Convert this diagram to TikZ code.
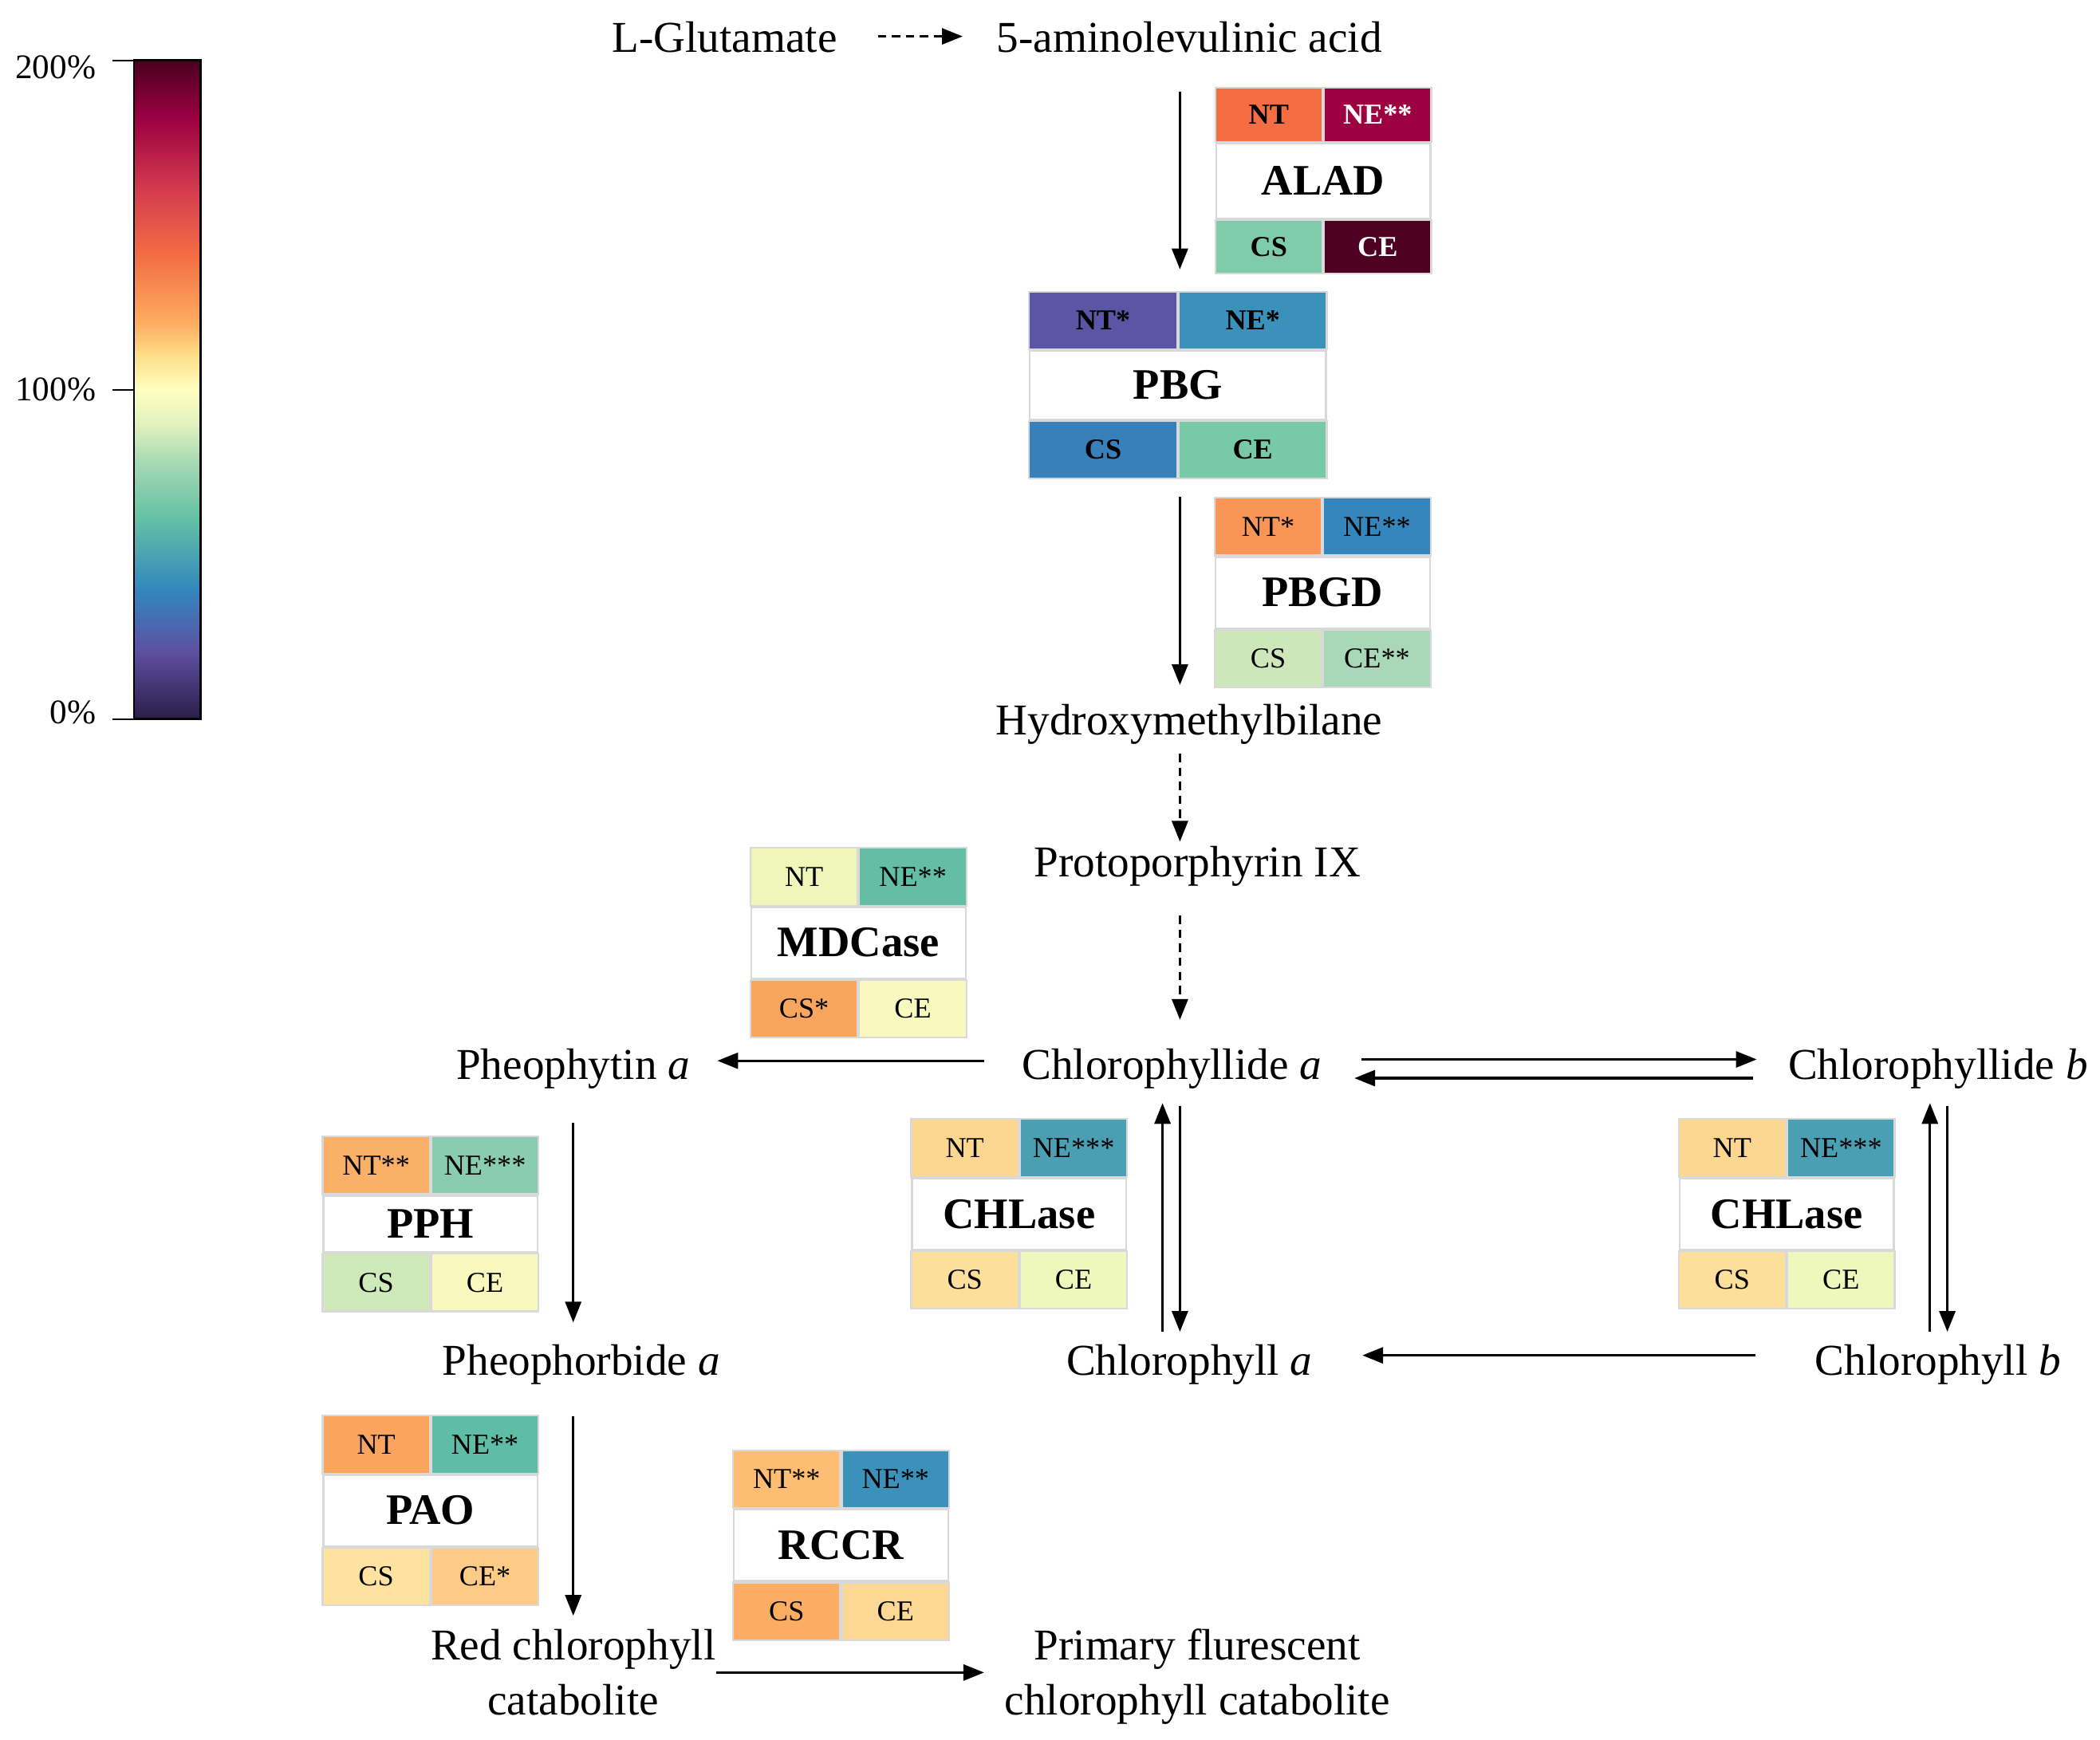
\documentclass[tikz,border=0pt]{standalone}
\usepackage{fontspec}
\setmainfont{Liberation Serif}
\usetikzlibrary{positioning,calc,arrows.meta}

% colours of the heat map cells
\definecolor{aladNT}{HTML}{F46D43}
\definecolor{aladNE}{HTML}{9E0142}
\definecolor{aladCS}{HTML}{80CBA9}
\definecolor{aladCE}{HTML}{4D0022}
\definecolor{pbgNT}{HTML}{5A55A4}
\definecolor{pbgNE}{HTML}{3C91BA}
\definecolor{pbgCS}{HTML}{3780BA}
\definecolor{pbgCE}{HTML}{78C9A8}
\definecolor{pbgdNT}{HTML}{F99556}
\definecolor{pbgdNE}{HTML}{3586BC}
\definecolor{pbgdCS}{HTML}{CDE7BA}
\definecolor{pbgdCE}{HTML}{A8D8B7}
\definecolor{mdcNT}{HTML}{EEF6B8}
\definecolor{mdcNE}{HTML}{63BEA5}
\definecolor{mdcCS}{HTML}{F8A55E}
\definecolor{mdcCE}{HTML}{F9F9BF}
\definecolor{chlaseaNT}{HTML}{FDD792}
\definecolor{chlaseaNE}{HTML}{4B9FB3}
\definecolor{chlaseaCS}{HTML}{FDDF9C}
\definecolor{chlaseaCE}{HTML}{EEF8BC}
\colorlet{chlasebNT}{chlaseaNT}
\colorlet{chlasebNE}{chlaseaNE}
\colorlet{chlasebCS}{chlaseaCS}
\colorlet{chlasebCE}{chlaseaCE}
\definecolor{pphNT}{HTML}{FBB068}
\definecolor{pphNE}{HTML}{89CCB0}
\definecolor{pphCS}{HTML}{CEE9BA}
\definecolor{pphCE}{HTML}{F9F9BF}
\definecolor{paoNT}{HTML}{FAA45E}
\definecolor{paoNE}{HTML}{5FBCA6}
\definecolor{paoCS}{HTML}{FEE2A0}
\definecolor{paoCE}{HTML}{FDCB86}
\definecolor{rccrNT}{HTML}{FDBE74}
\definecolor{rccrNE}{HTML}{3B91B9}
\definecolor{rccrCS}{HTML}{FBAE63}
\definecolor{rccrCE}{HTML}{FDD895}
\definecolor{boxline}{HTML}{D9D9D9}

% colour bar
\definecolor{sp0}{HTML}{2A1E48}
\definecolor{sp1}{HTML}{5E4FA2}
\definecolor{sp2}{HTML}{3288BD}
\definecolor{sp3}{HTML}{66C2A5}
\definecolor{sp4}{HTML}{A6D9B4}
\definecolor{sp5}{HTML}{E2F2BE}
\definecolor{sp6}{HTML}{FFFFBF}
\definecolor{sp7}{HTML}{FEE08B}
\definecolor{sp8}{HTML}{FDAE61}
\definecolor{sp9}{HTML}{F46D43}
\definecolor{sp10}{HTML}{D53E4F}
\definecolor{sp11}{HTML}{9E0142}
\definecolor{sp12}{HTML}{4A0020}
\pgfdeclareverticalshading{spectralbar}{100bp}{color(0bp)=(sp0); color(25bp)=(sp0);
  color(30.1bp)=(sp1); color(34.9bp)=(sp2); color(40.4bp)=(sp3); color(44.5bp)=(sp4);
  color(47.4bp)=(sp5); color(50bp)=(sp6); color(52.5bp)=(sp7); color(55bp)=(sp8);
  color(60.2bp)=(sp9); color(65bp)=(sp10); color(70.5bp)=(sp11); color(75bp)=(sp12);
  color(100bp)=(sp12)}

% enzyme box: name in the middle, NT/NE above, CS/CE below
\newcommand{\enzyme}[8][]{%
  \begin{scope}[#1]
    \node[ename] (#2) at (#3) {#4};
    \node[cell, fill=#2NT, anchor=south east] (#2NT) at (#2.north) {#5};
    \node[cell, fill=#2NE, anchor=south west] (#2NE) at (#2.north) {#6};
    \node[cell, fill=#2CS, anchor=north east] (#2CS) at (#2.south) {#7};
    \node[cell, fill=#2CE, anchor=north west] (#2CE) at (#2.south) {#8};
  \end{scope}}

\begin{document}
\begin{tikzpicture}[x=0.016792cm, y=-0.016792cm,
  met/.style={font=\fontsize{15.7}{19.5}\selectfont, inner sep=0pt, text height=11pt, text depth=3.5pt, anchor=base},
  met2/.style={font=\fontsize{15.7}{19.5}\selectfont, inner sep=0pt, align=center},
  ename/.style={draw=boxline, line width=0.6pt, fill=white, inner sep=0pt, minimum width=2.687cm, minimum height=0.890cm, font=\bfseries\fontsize{15.5}{18}\selectfont},
  cell/.style={draw=boxline, line width=0.6pt, inner sep=0pt, minimum width=1.343cm, minimum height=0.722cm, font=\fontsize{10.3}{12}\selectfont},
  bcell/.style={cell/.append style={font=\bfseries\fontsize{10.3}{12}\selectfont}},
  arr/.style={line width=0.9pt, -{Triangle[length=0.26cm, width=0.2cm]}},
  dasharr/.style={arr, dash pattern=on 3pt off 2pt},
  barlab/.style={font=\fontsize{12.3}{14}\selectfont, anchor=east, inner sep=0pt}]
\useasboundingbox (0,0) rectangle (1568,1299);

% colour scale
\shadedraw[shading=spectralbar, draw=black, line width=0.8pt] (100,45) rectangle (150,537);
\foreach \yy/\ly/\lab in {45/50/200, 291/291/100, 537/532/0} {
  \draw[line width=0.6pt] (84,\yy) -- (100,\yy);
  \node[barlab] (tick\lab) at (72,\ly) {\lab\%};
}

% metabolites
\coordinate (axis) at (881,0);
\node[met] (glu) at (541,39) {L-Glutamate};
\node[met] (ala) at (888,39) {5-aminolevulinic acid};
\node[met] (hmb) at (888,549) {Hydroxymethylbilane};
\node[met] (proto) at (894,655) {Protoporphyrin IX};
\node[met] (chlidea) at (875,806) {Chlorophyllide \textit{a}};
\node[met] (pheo) at (428,806) {Pheophytin \textit{a}};
\node[met] (chlideb) at (1447,806) {Chlorophyllide \textit{b}};
\node[met] (chla) at (888,1027) {Chlorophyll \textit{a}};
\node[met] (chlb) at (1447,1027) {Chlorophyll \textit{b}};
\node[met] (pheide) at (434,1027) {Pheophorbide \textit{a}};
\node[met2] (rcc) at (428,1249) {Red chlorophyll\\catabolite};
\node[met2] (pfcc) at (894,1252) {Primary flurescent\\chlorophyll catabolite};

% enzymes
\enzyme[bcell, cell/.append style={minimum height=0.672cm}, ename/.append style={minimum height=0.940cm}]
  {alad}{988,135}{ALAD}{NT}{\color{white}NE**}{CS}{\color{white}CE}
\enzyme[bcell, cell/.append style={minimum width=1.855cm}, ename/.append style={minimum width=3.711cm, minimum height=0.856cm}]
  {pbg}{879.5,287.5}{PBG}{NT*}{NE*}{CS}{CE}
\enzyme{pbgd}{987.5,442.5}{PBGD}{NT*}{NE**}{CS}{CE**}
\enzyme{mdc}{641,704}{MDCase}{NT}{NE**}{CS*}{CE}
\enzyme{chlasea}{761,906.5}{CHLase}{NT}{NE***}{CS}{CE}
\enzyme{chlaseb}{1334,906.5}{CHLase}{NT}{NE***}{CS}{CE}
\enzyme[ename/.append style={minimum height=0.705cm}]
  {pph}{321.5,914}{PPH}{NT**}{NE***}{CS}{CE}
\enzyme{pao}{321.5,1128}{PAO}{NT}{NE**}{CS}{CE*}
\enzyme{rccr}{628,1154}{RCCR}{NT**}{NE**}{CS}{CE}

% reactions
\draw[dasharr] ($(glu.east)+(30,-4)$) -- ($(ala.west)+(-25,-4)$);
\draw[arr] ($(ala.south -| axis)+(0,22)$) -- ($(pbgNT.north east -| axis)+(0,-16)$);
\draw[arr] ($(pbgCS.south east -| axis)+(0,13)$) -- ($(hmb.north -| axis)+(0,-14)$);
\draw[dasharr] ($(hmb.south -| axis)+(0,6)$) -- ($(proto.north -| axis)+(0,-3)$);
\draw[dasharr] ($(proto.south -| axis)+(0,21)$) -- ($(chlidea.north -| axis)+(0,-21)$);
\draw[arr] ($(chlidea.west)+(-28,-6)$) -- ($(pheo.east)+(20,-6)$);
\draw[arr] ($(chlidea.east)+(29,-7)$) -- ($(chlideb.west)+(-23,-7)$);
\draw[arr] ($(chlideb.west)+(-26,7)$) -- ($(chlidea.east)+(24,7)$);
\draw[arr] ($(chla.north -| axis)+(-13,-9)$) -- ($(chlidea.south -| axis)+(-13,10)$);
\draw[arr] ($(chlidea.south -| axis)+(0,12)$) -- ($(chla.north -| axis)+(0,-9)$);
\draw[arr] ($(chlb.west)+(-44,-7)$) -- ($(chla.east)+(37,-7)$);
\draw[arr] ($(chlb.north)+(-6,-9)$) -- ($(chlideb.south)+(-6,10)$);
\draw[arr] ($(chlideb.south)+(7,12)$) -- ($(chlb.north)+(7,-9)$);
\draw[arr] ($(pheo.south)+(0,25)$) -- ($(pheide.north -| pheo)+(0,-16)$);
\draw[arr] ($(pheide.south -| pheo)+(0,23)$) -- ($(rcc.north)+(0,-10)$);
\draw[arr] (rcc.east) -- ($(rcc.east -| pfcc.west)+(-15,0)$);
\end{tikzpicture}
\end{document}
